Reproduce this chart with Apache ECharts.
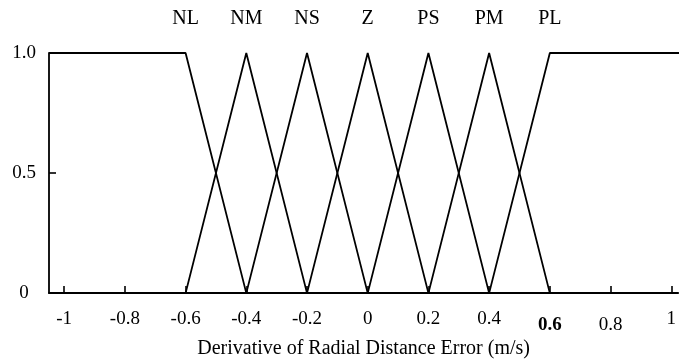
<!DOCTYPE html>
<html>
<head>
<meta charset="utf-8">
<script src="https://cdn.jsdelivr.net/npm/echarts@6/dist/echarts.min.js"></script>
<style>html,body{margin:0;padding:0;background:#fff}#c{width:679px;height:364px}</style>
</head>
<body>
<div id="c"></div>
<script>
// Fuzzy set names and their centre positions
const setNames = ['NL', 'NM', 'NS', 'Z', 'PS', 'PM', 'PL'];
const setCenters = [-0.6, -0.4, -0.2, 0, 0.2, 0.4, 0.6];
// x tick values and y tick values
const xTicks = [-1, -0.8, -0.6, -0.4, -0.2, 0, 0.2, 0.4, 0.6, 0.8, 1];
const yTicks = [0, 0.5, 1];
// Membership function breakpoints [x, membership]
const NL = [[-1.05, 1], [-0.6, 1], [-0.4, 0]];
const NM = [[-0.6, 0], [-0.4, 1], [-0.2, 0]];
const NS = [[-0.4, 0], [-0.2, 1], [0, 0]];
const Z  = [[-0.2, 0], [0, 1], [0.2, 0]];
const PS = [[0, 0], [0.2, 1], [0.4, 0]];
const PM = [[0.2, 0], [0.4, 1], [0.6, 0]];
const PL = [[0.4, 0], [0.6, 1], [1.03, 1]];
const sets = [NL, NM, NS, Z, PS, PM, PL];

const font = 'Liberation Serif, Times New Roman, serif';
const chart = echarts.init(document.getElementById('c'));
chart.setOption({
  animation: false,
  grid: { left: 49, right: 0, top: 53, bottom: 69, containLabel: false },
  xAxis: [{
    type: 'value', min: -1.05, max: 1.023, position: 'bottom',
    axisLine: { show: true, onZero: false, lineStyle: { color: '#000', width: 1.8 } },
    axisTick: { show: true, inside: true, length: 7, customValues: xTicks, lineStyle: { color: '#000', width: 1.6 } },
    axisLabel: {
      customValues: xTicks, margin: 16, color: '#000', fontFamily: font, fontSize: 19,
      formatter: v => v === 0.6 ? '{b|0.6}' : (v === 0.8 ? '{l|0.8}' : String(v)),
      rich: { b: { fontWeight: 'bold', fontFamily: font, fontSize: 19, color: '#000', padding: [6, 0, 0, 0] },
              l: { fontFamily: font, fontSize: 19, color: '#000', padding: [6, 0, 0, 0] } }
    },
    splitLine: { show: false },
    name: 'Derivative of Radial Distance Error (m/s)', nameLocation: 'middle', nameGap: 41,
    nameTextStyle: { color: '#000', fontFamily: font, fontSize: 20 }
  }, {
    type: 'value', min: -1.05, max: 1.023, position: 'top',
    axisLine: { show: false }, axisTick: { show: false }, splitLine: { show: false },
    axisLabel: {
      customValues: setCenters, margin: 24, color: '#000', fontFamily: font, fontSize: 20,
      formatter: v => setNames[setCenters.findIndex(c => Math.abs(c - v) < 1e-9)] || ''
    }
  }],
  yAxis: {
    type: 'value', min: 0, max: 1,
    axisLine: { show: true, onZero: false, lineStyle: { color: '#000', width: 1.8 } },
    axisTick: { show: true, inside: true, length: 7, customValues: [0.5], lineStyle: { color: '#000', width: 1.6 } },
    axisLabel: {
      customValues: yTicks, margin: 25, align: 'center', color: '#000', fontFamily: font, fontSize: 19,
      formatter: v => v === 1 ? '1.0' : String(v)
    },
    splitLine: { show: false }
  },
  series: sets.map((d, i) => ({
    type: 'line', name: setNames[i], data: d, showSymbol: false, symbol: 'none',
    lineStyle: { color: '#000', width: 1.8 }, clip: false
  }))
});
</script>
</body>
</html>
